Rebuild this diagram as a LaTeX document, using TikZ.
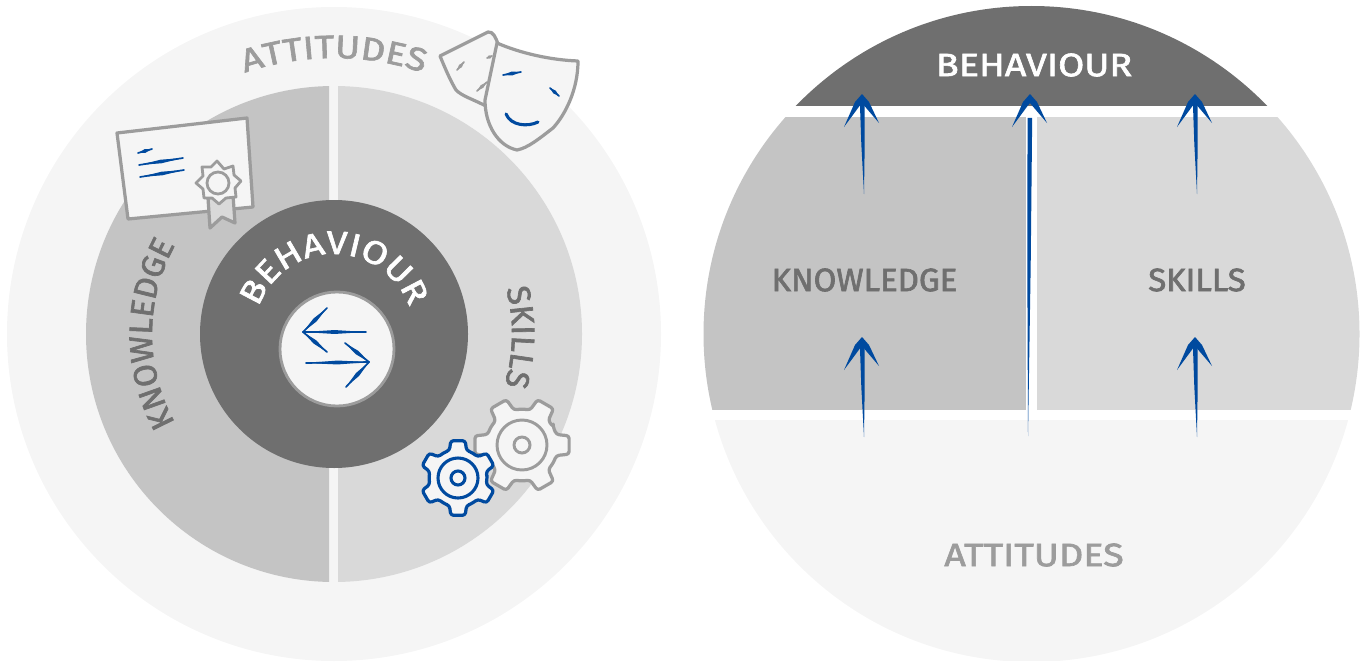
\documentclass[tikz,border=0pt]{standalone}
\usepackage{fontspec}
\setmainfont{Fira Sans}
\newfontfamily\wideA{Fira Sans}[FakeBold=2,FakeStretch=1.17]
\newfontfamily\wideB{Fira Sans}[FakeBold=2,FakeStretch=1.02]
\usetikzlibrary{decorations.text,calc}
\definecolor{outerc}{HTML}{F5F5F5}
\definecolor{knowc}{HTML}{C4C4C4}
\definecolor{skillc}{HTML}{D9D9D9}
\definecolor{darkc}{HTML}{6F6F6F}
\definecolor{attc}{HTML}{9C9C9C}
\definecolor{bluec}{HTML}{004A9F}
\newcommand{\bigA}{\wideA\fontsize{46}{48}\selectfont}
\newcommand{\bigB}{\wideB\fontsize{46}{48}\selectfont}
\newcommand{\lens}[4][bluec]{% colour, from, to, half width
  \draw[#1,line width=2.4,line cap=round] (#2) -- (#3);
  \fill[#1] (#2) -- ($(#2)!.5!(#3)!#4!90:(#3)$) -- (#3) -- ($(#2)!.5!(#3)!#4!-90:(#3)$) -- cycle;}
\newcommand{\handup}[2]{%
  \fill[bluec] (#1) -- ($(#1)!.5!(#2)!2.4pt!90:(#2)$) -- ($(#1)!.93!(#2)!3.3pt!90:(#2)$)
     -- ($(#1)!.93!(#2)!3.3pt!-90:(#2)$) -- ($(#1)!.5!(#2)!2.4pt!-90:(#2)$) -- cycle;
  \fill[bluec,line join=round] (#2) -- ($(#2)+(-7,8)$) -- ($(#2)+(-18,33)$) -- ($(#2)+(-2.5,12)$) -- ($(#2)+(0,9)$) -- ($(#2)+(2.5,12)$) -- ($(#2)+(17,29)$) -- ($(#2)+(7,8)$) -- cycle;}
\newcommand{\gearpath}[3]{% outer, root, rotation
  (#3-30:#2) \foreach \g in {0,60,...,300} {
    -- (#3+\g-17:#2) -- (#3+\g-11:#1) -- (#3+\g+11:#1) -- (#3+\g+17:#2) -- (#3+\g+30:#2)
  } -- cycle}
\tikzset{
  flatlabel/.style={inner sep=0pt},
  icon/.style={draw=attc,fill=outerc,line width=4.6,line join=round,line cap=round},
  bluemark/.style={draw=bluec,line width=5,line cap=round,line join=round},
  curved/.style args={#1/#2/#3}{decorate,decoration={text along path,text align=center,
     text={|#2\color{#1}|#3}}}
}
\begin{document}
\begin{tikzpicture}[x=0.05cm,y=-0.05cm]
\useasboundingbox (0,0) rectangle (1367,661);
\coordinate (lc) at (334,334);
\coordinate (rc) at (1032,334);
% left disc
\fill[outerc] (lc) circle[radius=327];
\begin{scope}
  \clip (0,0) rectangle (329,661);
  \fill[knowc] (lc) circle[radius=248];
\end{scope}
\begin{scope}
  \clip (338,0) rectangle (700,661);
  \fill[skillc] (lc) circle[radius=248];
\end{scope}
\fill[darkc] (lc) circle[radius=134];
\filldraw[fill=outerc,draw=attc,line width=4] (337,349) circle[radius=57];
% curved labels
\path[curved={white/\bigA/BEHAVIOUR}] (lc) ++(-170:80) arc[start angle=-170,end angle=-10,radius=80];
\path[curved={attc/\bigA/ATTITUDES}] (lc) ++(-115:276) arc[start angle=-115,end angle=-65,radius=276];
\path[curved={darkc/\bigB/KNOWLEDGE}] (lc) ++(150:182) arc[start angle=150,end angle=210,radius=182];
\path[curved={darkc/\bigB/SKILLS}] (lc) ++(-20:178) arc[start angle=-20,end angle=22,radius=178];
% certificate
\path[icon] (117,133) -- (247,118) -- (253,207) -- (128,219) -- cycle;
\path[icon,fill=skillc] (208,198) -- (210,228) -- (222,217) -- (235,223) -- (233,195) -- cycle;
\path[icon,line width=4] (217,161)--(224,169)--(233,166)--(234,175)--(241,181)--(235,188)--(236,197)--(226,198)--(219,204)--(212,198)--(204,198)--(203,189)--(196,183)--(203,176)--(202,167)--(211,167)--cycle;
\path[icon,line width=4] (218,183) circle[radius=11];
\lens{138,153}{152,149}{2.6pt}
\lens{139,165}{183,158}{2.6pt}
\lens{140,177}{184,170}{2.6pt}
% masks
\path[icon] (440,56) -- (488,32) .. controls (493,31) and (496,38) .. (498,44) -- (486,106)
  .. controls (470,98) and (462,96) .. (456,90) .. controls (450,80) and (445,68) .. (440,56) -- cycle;
\lens[attc]{457,70}{464,62}{2.6pt}
\lens[attc]{487,58}{492,56}{2.6pt}
\lens[attc]{477,91}{487,82}{2.6pt}
\path[icon] (497,43) .. controls (520,53) and (550,60) .. (578,61)
  .. controls (578,90) and (565,115) .. (553,128) .. controls (540,138) and (528,148) .. (517,150)
  .. controls (498,146) and (485,125) .. (485,100) -- cycle;
\lens{503,75}{521,72}{2.8pt}
\lens{550,88}{559,96}{2.6pt}
\draw[bluemark,line width=4.4] (506,114) .. controls (511,126) and (528,127) .. (538,122);
% gears
\begin{scope}[shift={(522,445)}]
  \path[icon,rounded corners=4] \gearpath{48}{36}{0};
  \draw[attc,line width=4.2] (0,0) circle[radius=25];
  \draw[attc,line width=4.2] (0,0) circle[radius=8];
\end{scope}
\begin{scope}[shift={(458,478)}]
  \path[icon,draw=bluec,rounded corners=4] \gearpath{38}{29}{30};
  \draw[bluec,line width=4.4] (0,0) circle[radius=20];
  \draw[bluec,line width=4.4] (0,0) circle[radius=7];
\end{scope}
% exchange arrows
\coordinate (xa) at (366,332); \coordinate (xb) at (303,332);
\coordinate (ya) at (306,363); \coordinate (yb) at (369,362);
\lens{xa}{xb}{2.8pt}
\lens{327,308}{303,332}{3pt}
\lens{327,352}{303,332}{3pt}
\lens{ya}{yb}{2.8pt}
\lens{345,343}{369,362}{3pt}
\lens{346,387}{369,362}{3pt}
% right disc
\begin{scope}
  \clip (1031.5,334) circle[radius=328];
  \fill[darkc] (700,0) rectangle (1367,106);
  \fill[knowc] (700,117) rectangle (1026,410);
  \fill[skillc] (1037,117) rectangle (1367,410);
  \fill[outerc] (700,420) rectangle (1367,661);
\end{scope}
\node[flatlabel,text=white,font=\bigA] (rb) at (1034,65) {BEHAVIOUR};
\node[flatlabel,text=darkc,font=\bigB] (rk) at (864.5,280) {KNOWLEDGE};
\node[flatlabel,text=darkc,font=\bigB] (rs) at (1197,280) {SKILLS};
\node[flatlabel,text=attc,font=\bigA] (ra) at (1034,555) {ATTITUDES};
% upward arrows
\coordinate (a1) at (864,194); \coordinate (a2) at (862,94);
\coordinate (a3) at (1028,436); \coordinate (a4) at (1030,94);
\coordinate (a5) at (1197,194); \coordinate (a6) at (1195,94);
\coordinate (a7) at (864,437); \coordinate (a8) at (862,337);
\coordinate (a9) at (1197,437); \coordinate (a10) at (1195,337);
\handup{a1}{a2}
\handup{a3}{a4}
\handup{a5}{a6}
\handup{a7}{a8}
\handup{a9}{a10}
\end{tikzpicture}
\end{document}
